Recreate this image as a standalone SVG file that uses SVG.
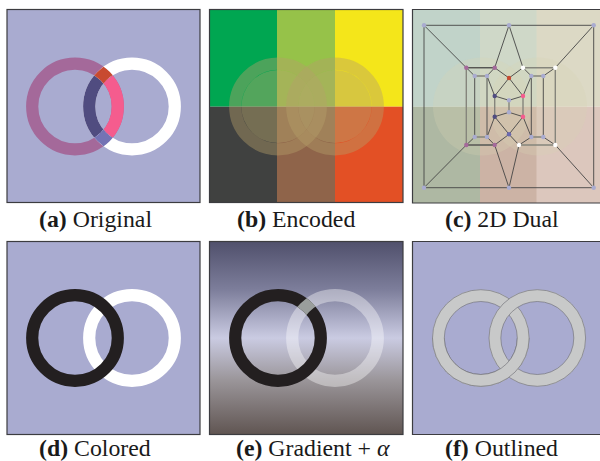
<svg xmlns="http://www.w3.org/2000/svg" width="600" height="461" viewBox="0 0 600 461">
<style>
text{font-family:"Liberation Serif","Times New Roman",serif;font-size:23.8px;fill:#1a1a1a}
.b{font-weight:bold}
.f{stroke:#3c3c40;stroke-width:1.2}
.r{fill:none;stroke-width:12.2}
.e{stroke:#454545;stroke-width:.9;fill:none}
.g{stroke:#85857c;stroke-width:1.4;fill:none}
.l{fill:#a9abd0}.p{fill:#a4699a}.w{fill:#fff}.d{fill:#504c80}.k{fill:#f55c8e}
</style>
<defs>
<clipPath id="aIL"><circle cx="75" cy="106.5" r="36.6"/></clipPath>
<clipPath id="aIR"><circle cx="132" cy="106.5" r="36.6"/></clipPath>
<clipPath id="aAL"><path clip-rule="evenodd" d="M26 106.5a49 49 0 1 0 98 0a49 49 0 1 0-98 0zM38.400 106.5a36.600 36.600 0 1 0 73.200 0a36.600 36.600 0 1 0-73.200 0z"/></clipPath>
<clipPath id="eAL"><path clip-rule="evenodd" d="M229 338a49 49 0 1 0 98 0a49 49 0 1 0-98 0zM241.400 338a36.600 36.600 0 1 0 73.200 0a36.600 36.600 0 1 0-73.200 0z"/></clipPath>
<clipPath id="up"><rect x="0" y="0" width="600" height="106.5"/></clipPath>
<clipPath id="dn"><rect x="0" y="106.5" width="600" height="100"/></clipPath>
<clipPath id="eUp"><rect x="200" y="240" width="210" height="98"/></clipPath>
<clipPath id="fDn"><rect x="410" y="338" width="190" height="100"/></clipPath>
<linearGradient id="eg" x1="0" y1="0" x2="0" y2="1">
<stop offset="0" stop-color="#50506c"/><stop offset=".25" stop-color="#7d7e9b"/><stop offset=".5" stop-color="#cacbe2"/><stop offset=".72" stop-color="#9a9599"/><stop offset="1" stop-color="#605552"/>
</linearGradient>
<g id="fL"><circle cx="480.800" cy="338" r="42.400" stroke="#c8c9c9" stroke-width="12" fill="none"/><circle cx="480.800" cy="338" r="48.300" fill="none" stroke="#6a6a70" stroke-width=".6"/><circle cx="480.800" cy="338" r="36.500" fill="none" stroke="#6a6a70" stroke-width=".6"/></g>
<g id="fR"><circle cx="537.300" cy="338" r="42.400" stroke="#c8c9c9" stroke-width="12" fill="none"/><circle cx="537.300" cy="338" r="48.300" fill="none" stroke="#6a6a70" stroke-width=".6"/><circle cx="537.300" cy="338" r="36.500" fill="none" stroke="#6a6a70" stroke-width=".6"/></g>
</defs>
<rect width="600" height="461" fill="#fff"/>

<g id="panel-a">
<rect class="f" x="7" y="9.500" width="193" height="193" fill="#a9abd0"/>
<circle class="r" cx="75" cy="106.5" r="42.800" stroke="#a4699a"/>
<circle class="r" cx="132" cy="106.5" r="42.800" stroke="#fff"/>
<circle class="r" cx="75" cy="106.5" r="42.800" stroke="#f55c8e" clip-path="url(#aIR)"/>
<circle class="r" cx="132" cy="106.5" r="42.800" stroke="#504c80" clip-path="url(#aIL)"/>
<g clip-path="url(#up)"><circle class="r" cx="132" cy="106.5" r="42.800" stroke="#c84a30" clip-path="url(#aAL)"/></g>
<g clip-path="url(#dn)"><circle class="r" cx="132" cy="106.5" r="42.800" stroke="#7473b4" clip-path="url(#aAL)"/></g>
<text x="39" y="226.500"><tspan class="b">(a)</tspan> Original</text>
</g>

<g id="panel-b">
<rect x="277" y="10" width="58" height="96.700" fill="#96c249"/>
<rect x="209.500" y="10" width="67.500" height="96.700" fill="#00a651"/>
<rect x="335" y="10" width="68" height="96.700" fill="#f4e61a"/>
<rect x="209.500" y="106.700" width="67.500" height="96" fill="#404140"/>
<rect x="277" y="106.700" width="58" height="96" fill="#8f644a"/>
<rect x="335" y="106.700" width="68" height="96" fill="#e35025"/>
<circle cx="278" cy="106.500" r="36.600" fill="#b4a46a" opacity=".46"/>
<circle cx="278" cy="106.500" r="42.800" fill="none" stroke="#b4a069" stroke-width="12.200" opacity=".42"/>
<circle cx="335" cy="106.500" r="36.600" fill="#b4a46a" opacity=".46"/>
<circle cx="335" cy="106.500" r="42.800" fill="none" stroke="#b4a069" stroke-width="12.200" opacity=".42"/>
<rect class="f" x="209.500" y="9.500" width="193.500" height="193" fill="none"/>
<text x="237" y="226.500"><tspan class="b">(b)</tspan> Encoded</text>
</g>

<g id="panel-c">
<rect x="412" y="10" width="68" height="96.700" fill="#c1d3c9"/>
<rect x="480" y="10" width="57" height="96.700" fill="#cfd8c8"/>
<rect x="536.500" y="10" width="64" height="96.700" fill="#dcd9c5"/>
<rect x="412" y="106.700" width="68" height="96.300" fill="#aeb8a3"/>
<rect x="480" y="106.700" width="57" height="96.300" fill="#ccb3a5"/>
<rect x="536.500" y="106.700" width="64" height="96.300" fill="#dcc7bd"/>
<circle cx="482" cy="106.500" r="49" fill="#d8d4b4" opacity=".28"/>
<circle cx="538" cy="106.500" r="49" fill="#d8d4b4" opacity=".28"/>
<path class="f" fill="none" d="M600 9.500H412.500V203H600"/>
<g id="connectors">
<path class="g" d="M523 67.700H555.300M519 145H555.300M494.700 96V116.700M523 96V116.700M466.300 67.700H494.700M466.300 145H494.700M474.700 76H487M531.300 76H543.300M474.700 137H487M531.300 137H543.300M466.300 67.700V145M555.300 67.700V145M509 100.300V112.300"/>
<path class="e" d="M424 25.300H593.700V187.700H424ZM424 25.300L466.300 67.700M509 25.300L494.700 67.700M509 25.300L523 67.700M593.700 25.300L555.300 67.700M424 187.700L466.300 145M509 187.700L494.700 145M509 187.700L519 145M593.700 187.700L555.300 145M466.300 67.700H494.700M466.300 67.700L474.700 76M494.700 67.700L487 76M494.700 67.700L509 78M523 67.700L509 78M523 67.700L531.300 76M555.300 67.700L543.300 76M474.700 76V137M487 76V137M531.300 76V137M543.300 76V137M466.300 145L474.700 137M487 137L494.700 145M519 145L531.300 137M543.300 137L555.300 145M466.300 145H494.700M487 76L494.700 96M509 78L494.700 96M509 78L523 96M531.300 76L523 96M494.700 96L509 100.300M523 96L509 100.300M509 112.300L494.700 116.700M509 112.300L523 116.700M494.700 116.700L487 137M494.700 116.700L509 134.300M523 116.700L509 134.300M523 116.700L531.300 137M509 134.300L494.700 145M509 134.300L519 145"/>
</g>
<g id="nodes">
<g class="l"><circle cx="424" cy="25.300" r="2.200"/><circle cx="509" cy="25.300" r="2.200"/><circle cx="593.700" cy="25.300" r="2.200"/><circle cx="424" cy="187.700" r="2.200"/><circle cx="509" cy="187.700" r="2.200"/><circle cx="593.700" cy="187.700" r="2.200"/><circle cx="474.700" cy="76" r="2.200"/><circle cx="487" cy="76" r="2.200"/><circle cx="531.300" cy="76" r="2.200"/><circle cx="543.300" cy="76" r="2.200"/><circle cx="474.700" cy="137" r="2.200"/><circle cx="487" cy="137" r="2.200"/><circle cx="531.300" cy="137" r="2.200"/><circle cx="543.300" cy="137" r="2.200"/><circle cx="509" cy="100.300" r="2.200"/><circle cx="509" cy="112.300" r="2.200"/></g>
<g class="p"><circle cx="466.300" cy="67.700" r="2.200"/><circle cx="494.700" cy="67.700" r="2.200"/><circle cx="466.300" cy="145" r="2.200"/><circle cx="494.700" cy="145" r="2.200"/></g>
<g class="w"><circle cx="523" cy="67.700" r="2.200"/><circle cx="555.300" cy="67.700" r="2.200"/><circle cx="519" cy="145" r="2.200"/><circle cx="555.300" cy="145" r="2.200"/></g>
<g class="d"><circle cx="494.700" cy="96" r="2.200"/><circle cx="494.700" cy="116.700" r="2.200"/></g>
<g class="k"><circle cx="523" cy="96" r="2.200"/><circle cx="523" cy="116.700" r="2.200"/></g>
<circle cx="509" cy="78" r="2.200" fill="#c84a30"/>
<circle cx="509" cy="134.300" r="2.200" fill="#6a69b0"/>
</g>
<text x="445" y="226.500"><tspan class="b">(c)</tspan> 2D Dual</text>
</g>

<g id="panel-d">
<rect class="f" x="7" y="241.500" width="193" height="193" fill="#a9abd0"/>
<circle class="r" cx="132" cy="338" r="42.800" stroke="#fff"/>
<circle class="r" cx="75" cy="338" r="42.800" stroke="#231f20"/>
<text x="39" y="455.800"><tspan class="b">(d)</tspan> Colored</text>
</g>

<g id="panel-e">
<rect class="f" x="209.500" y="241.500" width="193.500" height="193" fill="url(#eg)"/>
<circle class="r" cx="335" cy="338" r="42.800" stroke="#fff" opacity=".38"/>
<circle class="r" cx="278" cy="338" r="42.800" stroke="#231f20"/>
<g clip-path="url(#eUp)"><circle class="r" cx="335" cy="338" r="42.800" stroke="#9a9e9c" clip-path="url(#eAL)"/></g>
<text x="236" y="455.800"><tspan class="b">(e)</tspan> Gradient + <tspan font-style="italic">α</tspan></text>
</g>

<g id="panel-f">
<path class="f" d="M600 241.500H412.500V434.500H600" fill="#a9abd0"/>
<use href="#fL"/>
<use href="#fR"/>
<g clip-path="url(#fDn)"><use href="#fL"/></g>
<text x="445" y="455.800"><tspan class="b">(f)</tspan> Outlined</text>
</g>
</svg>
